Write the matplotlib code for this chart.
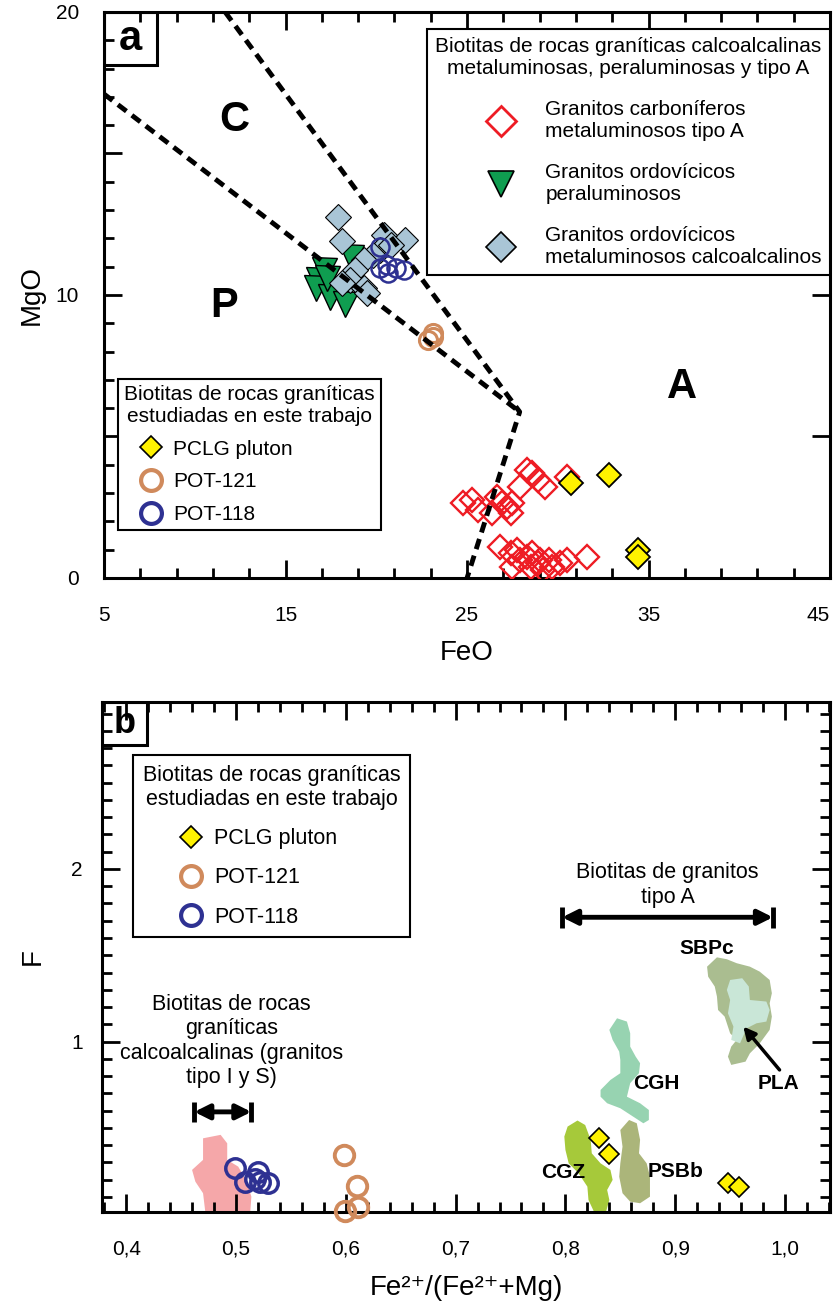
import numpy as np
import matplotlib
matplotlib.use("Agg")
import matplotlib.pyplot as plt
from matplotlib.lines import Line2D
from matplotlib.patches import Polygon, Rectangle
from matplotlib.ticker import FixedLocator, MultipleLocator, FuncFormatter

plt.rcParams['font.family'] = ['Liberation Sans', 'DejaVu Sans']

# Colores
rojo = '#ee1c24'
verde = '#0f9d50'
celeste = '#a9c5d6'
amarillo = '#fff200'
naranja = '#d08a5c'
azul = '#2e3192'

# ---------------- Panel a: FeO vs MgO ----------------
# Granitos carboníferos metaluminosos tipo A
red_feo = [28.3, 28.6, 30.5, 29.3, 27.9, 28.9, 24.8, 25.3, 25.6, 26.65, 26.9, 27.2, 27.4, 26.4, 27.5,
           26.8, 27.4, 27.75, 27.9, 27.5, 28.3, 28.6, 28.9, 29.2, 29.5, 29.7, 30.1, 30.5, 31.6, 29.0, 28.5]
red_mgo = [3.82, 3.71, 3.57, 3.22, 3.22, 3.46, 2.65, 2.76, 2.40, 2.86, 2.65, 2.51, 2.30, 2.30, 2.65,
           1.10, 0.88, 0.99, 0.64, 0.39, 0.74, 0.88, 0.53, 0.28, 0.64, 0.39, 0.53, 0.64, 0.74, 0.64, 0.39]

# Granitos ordovícicos peraluminosos
green_feo = [18.6, 17.1, 16.8, 16.7, 17.45, 18.3, 17.3]
green_mgo = [11.34, 10.88, 10.53, 10.25, 9.93, 9.68, 10.6]

# Granitos ordovícicos metaluminosos calcoalcalinos
lblue_feo = [17.9, 18.1, 21.6, 20.4, 20.2, 19.8, 19.3, 18.8, 18.55, 18.1, 19.3, 19.5, 20.8]
lblue_mgo = [12.76, 11.91, 11.94, 12.12, 11.59, 11.41, 11.24, 10.88, 10.53, 10.42, 10.25, 10.07, 11.77]

# Este trabajo
pclg_feo = [30.7, 32.8, 34.4, 34.4]
pclg_mgo = [3.36, 3.64, 0.99, 0.74]
pot121_feo = [23.1, 22.85, 23.1]
pot121_mgo = [8.66, 8.41, 8.52]
pot118_feo = [20.2, 20.2, 20.65, 21.1, 21.5, 20.6]
pot118_mgo = [11.7, 10.95, 10.78, 10.95, 10.88, 11.06]

# Límites de campos (C, P, A)
lim_cp_x = [5, 27.9]
lim_cp_y = [17.1, 5.87]
lim_ca_x = [11.67, 27.9, 25.0]
lim_ca_y = [20, 5.87, 0]

# ---------------- Panel b: Fe2+/(Fe2++Mg) vs F ----------------
b_pclg_x = [0.831, 0.840, 0.948, 0.958]
b_pclg_f = [0.44, 0.349, 0.183, 0.160]
b_pot121_x = [0.598, 0.610, 0.599, 0.611]
b_pot121_f = [0.344, 0.164, 0.02, 0.04]
b_pot118_x = [0.499, 0.508, 0.520, 0.522, 0.529, 0.517]
b_pot118_f = [0.267, 0.189, 0.247, 0.189, 0.180, 0.205]

# Campos de biotitas
campo_IS = [(0.470, 0.440), (0.486, 0.460), (0.492, 0.411), (0.492, 0.315), (0.502, 0.276),
            (0.510, 0.189), (0.514, 0.102), (0.513, 0.016), (0.472, 0.016), (0.470, 0.122),
            (0.463, 0.189), (0.460, 0.257), (0.470, 0.315)]
campo_CGZ = [(0.799, 0.450), (0.802, 0.508), (0.811, 0.543), (0.818, 0.517), (0.823, 0.431),
             (0.824, 0.353), (0.832, 0.295), (0.841, 0.257), (0.843, 0.199), (0.838, 0.141),
             (0.840, 0.083), (0.837, 0.015), (0.826, 0.015), (0.821, 0.083), (0.820, 0.160),
             (0.812, 0.237), (0.803, 0.295), (0.800, 0.373)]
campo_PSBb = [(0.850, 0.488), (0.858, 0.546), (0.865, 0.527), (0.868, 0.431), (0.867, 0.353),
              (0.874, 0.295), (0.877, 0.218), (0.877, 0.102), (0.868, 0.064), (0.859, 0.073),
              (0.852, 0.122), (0.849, 0.218), (0.850, 0.295), (0.852, 0.392)]
campo_CGH = [(0.847, 1.135), (0.856, 1.116), (0.859, 1.048), (0.859, 0.971), (0.864, 0.913),
             (0.868, 0.875), (0.867, 0.817), (0.859, 0.759), (0.856, 0.681), (0.868, 0.643),
             (0.876, 0.604), (0.876, 0.546), (0.871, 0.527), (0.864, 0.556), (0.850, 0.614),
             (0.838, 0.643), (0.832, 0.681), (0.832, 0.720), (0.841, 0.778), (0.850, 0.817),
             (0.850, 0.894), (0.849, 0.942), (0.843, 1.010), (0.840, 1.068)]
campo_SBPc = [(0.929, 1.434), (0.938, 1.488), (0.947, 1.477), (0.956, 1.454), (0.968, 1.434),
              (0.977, 1.405), (0.986, 1.357), (0.988, 1.280), (0.986, 1.222), (0.988, 1.145),
              (0.986, 1.068), (0.977, 0.990), (0.968, 0.932), (0.964, 0.884), (0.951, 0.865),
              (0.948, 0.913), (0.951, 0.971), (0.956, 1.010), (0.950, 1.048), (0.945, 1.145),
              (0.939, 1.183), (0.938, 1.261), (0.936, 1.319), (0.930, 1.376)]
campo_PLA = [(0.950, 1.357), (0.961, 1.367), (0.967, 1.319), (0.968, 1.241), (0.983, 1.232),
             (0.986, 1.183), (0.983, 1.116), (0.974, 1.106), (0.965, 1.077), (0.959, 0.990),
             (0.951, 1.010), (0.953, 1.087), (0.948, 1.164), (0.950, 1.241), (0.947, 1.299)]

rango_tipoA = [0.797, 0.989]
rango_IS = [0.462, 0.514]

# ---------------- Figura ----------------
fig = plt.figure(figsize=(8.37, 13.16), dpi=100)
ax1 = fig.add_axes([0.1243, 0.5608, 0.8674, 0.4301])
ax2 = fig.add_axes([0.1219, 0.0790, 0.8698, 0.3876])

for ax in (ax1, ax2):
    for s in ax.spines.values():
        s.set_linewidth(2.2)
    ax.tick_params(which='both', direction='in', top=True, right=True, width=2, labelsize=15)
    ax.tick_params(which='major', length=13)
    ax.tick_params(which='minor', length=7)

# Panel a
ax1.plot(red_feo, red_mgo, ls='none', marker='D', ms=12, mfc='none', mec=rojo, mew=1.7, zorder=3)
ax1.plot(green_feo, green_mgo, ls='none', marker='v', ms=18, mfc=verde, mec='k', mew=1, zorder=4)
ax1.plot(lblue_feo, lblue_mgo, ls='none', marker='D', ms=13, mfc=celeste, mec='k', mew=0.8, zorder=4)
ax1.plot(pclg_feo, pclg_mgo, ls='none', marker='D', ms=12.5, mfc=amarillo, mec='k', mew=1.3, zorder=5)
ax1.plot(pot121_feo, pot121_mgo, ls='none', marker='o', ms=13, mfc='none', mec=naranja, mew=2.2, zorder=5)
ax1.plot(pot118_feo, pot118_mgo, ls='none', marker='o', ms=13, mfc='none', mec=azul, mew=1.8, zorder=5)
ax1.plot(lim_cp_x, lim_cp_y, color='k', lw=3.5, dashes=(2.2, 1.4), zorder=6)
ax1.plot(lim_ca_x, lim_ca_y, color='k', lw=3.5, dashes=(2.2, 1.4), zorder=6)

ax1.text(12.2, 16.2, 'C', fontsize=30, fontweight='bold', ha='center', va='center')
ax1.text(11.6, 9.6, 'P', fontsize=30, fontweight='bold', ha='center', va='center')
ax1.text(36.85, 6.75, 'A', fontsize=30, fontweight='bold', ha='center', va='center')

ax1.set_xlim(5, 45)
ax1.set_ylim(0, 20)
ax1.xaxis.set_major_locator(FixedLocator([5, 15, 25, 35, 45]))
ax1.xaxis.set_minor_locator(FixedLocator(np.arange(5, 46, 2)))
ax1.yaxis.set_major_locator(MultipleLocator(5))
ax1.yaxis.set_minor_locator(MultipleLocator(1))
ax1.yaxis.set_major_formatter(FuncFormatter(lambda v, p: '%d' % v if v % 10 == 0 else ''))
ax1.tick_params(axis='y', which='minor', right=False)
ax1.tick_params(axis='x', pad=20)
ax1.tick_params(axis='y', pad=18)
ax1.set_xlabel('FeO', fontsize=20, labelpad=11)
ax1.set_ylabel('MgO', fontsize=20, labelpad=8)
fig.canvas.draw()
ax1.get_xticklabels()[-1].set_horizontalalignment('right')

ax1.add_patch(Rectangle((0, 1 - 0.0936), 0.073, 0.0936, transform=ax1.transAxes,
                        fill=False, ec='k', lw=2.2, zorder=7))
ax1.text(0.0365, 1 - 0.048, 'a', transform=ax1.transAxes, fontsize=30, fontweight='bold',
         ha='center', va='center')

h1 = [Line2D([], [], ls='none', marker='D', ms=15, mfc='none', mec=rojo, mew=2),
      Line2D([], [], ls='none', marker='v', ms=19, mfc=verde, mec='k', mew=1.2),
      Line2D([], [], ls='none', marker='D', ms=15, mfc=celeste, mec='k', mew=1.2)]
l1 = ['Granitos carboníferos\nmetaluminosos tipo A',
      'Granitos ordovícicos\nperaluminosos',
      'Granitos ordovícicos\nmetaluminosos calcoalcalinos']
leg1 = ax1.legend(h1, l1, loc='upper right', bbox_to_anchor=(1.0, 0.970),
                  title='Biotitas de rocas graníticas calcoalcalinas\nmetaluminosas, peraluminosas y tipo A',
                  fontsize=15, title_fontsize=15, alignment='right', handlelength=2,
                  handletextpad=1.1, labelspacing=1.05, borderpad=0.4, borderaxespad=0,
                  fancybox=False, edgecolor='k', framealpha=1)
leg1.get_frame().set_linewidth(1.5)
leg1.get_title().set_multialignment('center')
ax1.add_artist(leg1)

h2 = [Line2D([], [], ls='none', marker='D', ms=11, mfc=amarillo, mec='k', mew=1.2),
      Line2D([], [], ls='none', marker='o', ms=15, mfc='none', mec=naranja, mew=3),
      Line2D([], [], ls='none', marker='o', ms=15, mfc='none', mec=azul, mew=3)]
l2 = ['PCLG pluton', 'POT-121', 'POT-118']
leg2 = ax1.legend(h2, l2, loc='upper left', bbox_to_anchor=(0.0193, 0.3516),
                  title='Biotitas de rocas graníticas\nestudiadas en este trabajo',
                  fontsize=15, title_fontsize=15, alignment='left', handlelength=2.6,
                  handletextpad=-0.25, labelspacing=0.65, borderpad=0.3, borderaxespad=0,
                  fancybox=False, edgecolor='k', framealpha=1)
leg2.get_frame().set_linewidth(1.5)
leg2.get_title().set_multialignment('center')

# Panel b
for pts, col in [(campo_IS, '#f5a7a9'), (campo_CGZ, '#a6c93a'), (campo_PSBb, '#abb57a'),
                 (campo_CGH, '#97d3b1'), (campo_SBPc, '#aabd90'), (campo_PLA, '#c9e6d7')]:
    ax2.add_patch(Polygon(pts, closed=True, fc=col, ec='none', zorder=1))

ax2.plot(b_pot118_x, b_pot118_f, ls='none', marker='o', ms=14, mfc='none', mec=azul, mew=2.5, zorder=4)
ax2.plot(b_pot121_x, b_pot121_f, ls='none', marker='o', ms=14, mfc='none', mec=naranja, mew=2.8,
         zorder=4, clip_on=False)
ax2.plot(b_pclg_x, b_pclg_f, ls='none', marker='D', ms=10.5, mfc=amarillo, mec='k', mew=1.2, zorder=5)

for r, yv, dy in [(rango_tipoA, 1.72, 0.06), (rango_IS, 0.593, 0.06)]:
    ax2.annotate('', xy=(r[0], yv), xytext=(r[1], yv),
                 arrowprops=dict(arrowstyle='<|-|>', lw=3.5, color='k', mutation_scale=22,
                                 shrinkA=0, shrinkB=0))
    ax2.plot([r[0], r[0]], [yv - dy, yv + dy], color='k', lw=3.5, solid_capstyle='butt')
    ax2.plot([r[1], r[1]], [yv - dy, yv + dy], color='k', lw=3.5, solid_capstyle='butt')

ax2.text(0.893, 1.907, 'Biotitas de granitos\ntipo A', fontsize=15.5, ha='center', va='center')
ax2.text(0.496, 1.004, 'Biotitas de rocas\ngraníticas\ncalcoalcalinas (granitos\ntipo I y S)',
         fontsize=15.5, ha='center', va='center')

ax2.annotate('', xy=(0.962, 1.087), xytext=(0.995, 0.836),
             arrowprops=dict(arrowstyle='-|>', lw=2.5, color='k', mutation_scale=18,
                             shrinkA=0, shrinkB=0))
for txt, xv, yv in [('SBPc', 0.929, 1.541), ('CGH', 0.883, 0.759), ('PSBb', 0.900, 0.247),
                    ('PLA', 0.994, 0.759), ('CGZ', 0.798, 0.244)]:
    ax2.text(xv, yv, txt, fontsize=15, fontweight='bold', ha='center', va='center')

ax2.set_xlim(0.378, 1.041)
ax2.set_ylim(0.013, 2.967)
ax2.xaxis.set_major_locator(MultipleLocator(0.1))
ax2.xaxis.set_minor_locator(MultipleLocator(0.02))
ax2.xaxis.set_major_formatter(FuncFormatter(lambda v, p: ('%.1f' % v).replace('.', ',')))
ax2.yaxis.set_major_locator(FixedLocator([1, 2]))
ax2.yaxis.set_minor_locator(MultipleLocator(0.1))
ax2.tick_params(axis='x', pad=20)
ax2.tick_params(axis='y', pad=14)
ax2.set_xlabel('Fe²⁺/(Fe²⁺+Mg)', fontsize=20, labelpad=12)
ax2.set_ylabel('F', fontsize=20, labelpad=18)

ax2.add_patch(Rectangle((0, 1 - 0.0843), 0.0618, 0.0843, transform=ax2.transAxes,
                        fill=False, ec='k', lw=2.2, zorder=7))
ax2.text(0.0309, 1 - 0.043, 'b', transform=ax2.transAxes, fontsize=26, fontweight='bold',
         ha='center', va='center')

h3 = [Line2D([], [], ls='none', marker='D', ms=11.5, mfc=amarillo, mec='k', mew=1.2),
      Line2D([], [], ls='none', marker='o', ms=15, mfc='none', mec=naranja, mew=3),
      Line2D([], [], ls='none', marker='o', ms=15, mfc='none', mec=azul, mew=3)]
leg3 = ax2.legend(h3, l2, loc='upper left', bbox_to_anchor=(0.0426, 0.896),
                  title='Biotitas de rocas graníticas\nestudiadas en este trabajo',
                  fontsize=15.5, title_fontsize=15.5, alignment='left', handlelength=4.5,
                  handletextpad=-1.2, labelspacing=0.85, borderpad=0.45, borderaxespad=0,
                  fancybox=False, edgecolor='k', framealpha=1)
leg3.get_frame().set_linewidth(1.5)
leg3.get_title().set_multialignment('center')

fig.savefig('out.png', dpi=100)
